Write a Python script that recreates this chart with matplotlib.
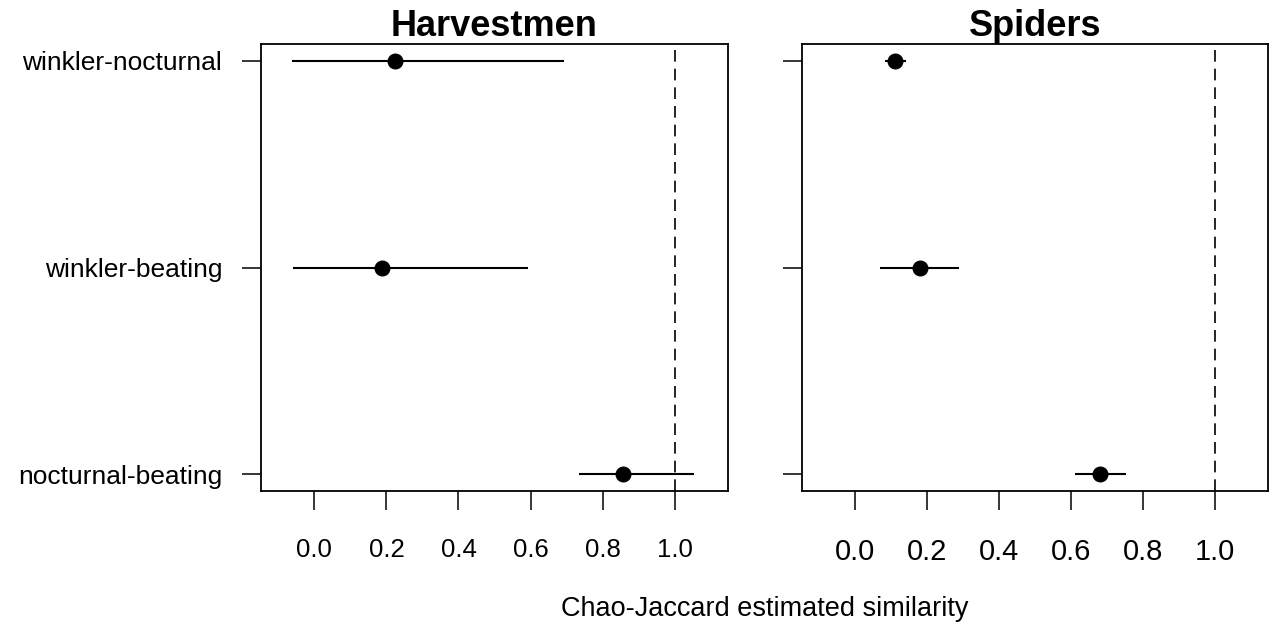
import numpy as np
import matplotlib
matplotlib.use('Agg')
import matplotlib.pyplot as plt

plt.rcParams['font.family'] = ['Liberation Sans', 'DejaVu Sans']

# comparisons, top row first
pairs = ['winkler-nocturnal', 'winkler-beating', 'nocturnal-beating']

# Harvestmen: estimate, lower, upper
harv_est = [0.224, 0.189, 0.856]
harv_lo = [-0.061, -0.058, 0.735]
harv_hi = [0.694, 0.594, 1.055]

# Spiders: estimate, lower, upper
spid_est = [0.112, 0.179, 0.681]
spid_lo = [0.084, 0.069, 0.612]
spid_hi = [0.141, 0.290, 0.753]

xticks = [0.0, 0.2, 0.4, 0.6, 0.8, 1.0]

fig = plt.figure(figsize=(12.69, 6.39), dpi=100)
W, H = 1269.0, 639.0
ax1 = fig.add_axes([261 / W, 1 - 491 / H, (728 - 261) / W, (491 - 44) / H])
ax2 = fig.add_axes([802 / W, 1 - 491 / H, (1268 - 802) / W, (491 - 44) / H])

ypos = np.array([3, 2, 1])


def panel(ax, est, lo, hi, title, tick_fs, show_labels):
    ax.hlines(ypos, lo, hi, color='black', lw=1.5)
    ax.plot(est, ypos, 'o', color='black', ms=10.5)
    ax.axvline(1.0, color='black', lw=1.2, ls=(0, (7, 4.2)))
    ax.set_xlim(-0.148, 1.148)
    ax.set_ylim(0.92, 3.08)
    ax.set_xticks(xticks)
    ax.set_xticklabels(['%.1f' % v for v in xticks], fontsize=tick_fs)
    ax.set_yticks(ypos)
    if show_labels:
        ax.set_yticklabels(pairs, fontsize=19)
    else:
        ax.set_yticklabels([])
    ax.tick_params(axis='x', length=14, width=1.1, pad=20)
    ax.tick_params(axis='y', length=14, width=1.1, pad=14)
    for s in ax.spines.values():
        s.set_linewidth(1.3)
    ax.set_title(title, fontsize=26, fontweight='bold', pad=5)


panel(ax1, harv_est, harv_lo, harv_hi, 'Harvestmen', 18.5, True)
panel(ax2, spid_est, spid_lo, spid_hi, 'Spiders', 21, False)

fig.text(764.5 / W, 1 - 609 / H, 'Chao-Jaccard estimated similarity',
         ha='center', va='center', fontsize=19.5)

fig.savefig('out.png', dpi=100)
